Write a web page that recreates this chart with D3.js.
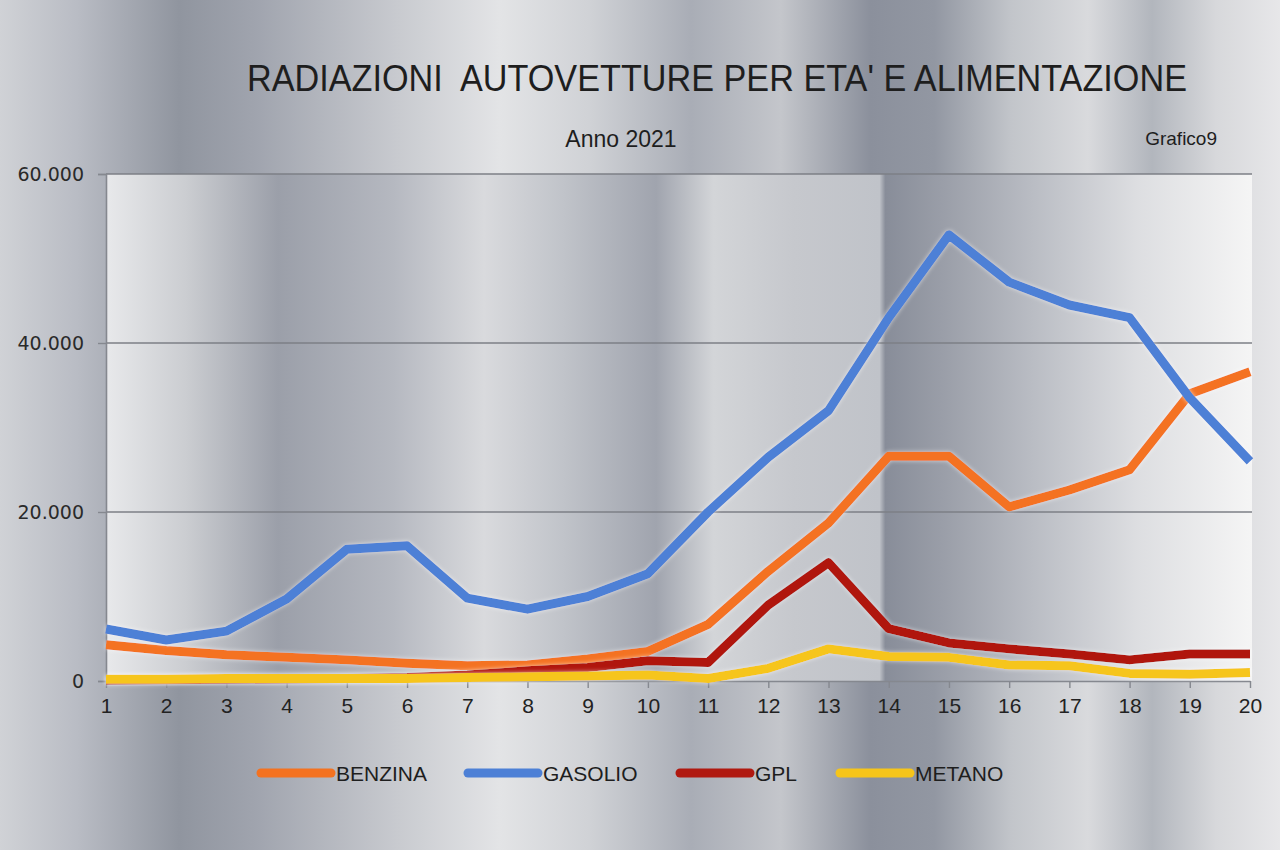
<!DOCTYPE html>
<html>
<head>
<meta charset="utf-8">
<script src="https://cdn.jsdelivr.net/npm/d3@7"></script>
<style>
  html, body { margin: 0; padding: 0; background: #c8cacf; }
  svg { display: block; }
</style>
</head>
<body>
<svg id="chart"></svg>
<script>
const eta = [1, 2, 3, 4, 5, 6, 7, 8, 9, 10, 11, 12, 13, 14, 15, 16, 17, 18, 19, 20];

const benzina = [4300, 3600, 3100, 2800, 2500, 2100, 1800, 1900, 2600, 3500,
                 6700, 13000, 18700, 26600, 26600, 20600, 22600, 25000, 34000, 36600];
const gasolio = [6150, 4850, 5900, 9700, 15600, 16000, 9800, 8500, 10000, 12700,
                 20000, 26500, 32000, 43000, 52800, 47200, 44500, 43000, 33500, 26000];
const gpl = [100, 150, 200, 250, 300, 400, 700, 1200, 1600, 2400,
             2200, 9000, 14000, 6200, 4500, 3800, 3200, 2500, 3200, 3200];
const metano = [200, 200, 300, 300, 300, 300, 400, 500, 600, 700,
                300, 1500, 3800, 2900, 2800, 1900, 1800, 900, 800, 1000];

const yTicks = [0, 20000, 40000, 60000];

const series = [
    { name: "BENZINA", values: benzina, color: "#f47220" },
    { name: "GASOLIO", values: gasolio, color: "#4d80d6" },
    { name: "GPL", values: gpl, color: "#b01910" },
    { name: "METANO", values: metano, color: "#f6c51a" }
];

const width = 1280;
const height = 850;
const plot = { left: 106, right: 1252, top: 174, bottom: 681 };

const svg = d3.select("#chart")
              .attr("width", width)
              .attr("height", height);

const defs = svg.append("defs");

// metallic background bands
const bgStops = [
    [0, "#d0d2d6"], [0.06, "#b9bcc4"], [0.14, "#90959f"], [0.2, "#a0a4ae"],
    [0.31, "#c8cacf"], [0.39, "#e3e4e6"], [0.46, "#d0d2d6"], [0.54, "#a9adb6"],
    [0.61, "#c4c6cb"], [0.68, "#8b909c"], [0.73, "#9297a2"], [0.79, "#c2c5ca"],
    [0.85, "#d9dadd"], [0.9, "#b2b6bd"], [0.95, "#d7d8db"], [1, "#e7e7e9"]
];
const plotStops = [
    [0, "#e8e9eb"], [0.07, "#cbcdd1"], [0.15, "#9b9fa9"], [0.25, "#b5b8c0"],
    [0.33, "#d9dadd"], [0.4, "#c0c3c9"], [0.48, "#a0a4ae"], [0.53, "#d3d5d8"],
    [0.6, "#c6c8cd"], [0.675, "#c0c3c9"], [0.68, "#888d99"], [0.73, "#9a9ea8"],
    [0.81, "#babdc4"], [0.9, "#dddee1"], [1, "#f5f5f5"]
];

function addGradient(id, stops) {
    const g = defs.append("linearGradient")
                  .attr("id", id)
                  .attr("x1", "0").attr("x2", "1")
                  .attr("y1", "0").attr("y2", "0");
    g.selectAll("stop")
     .data(stops)
     .enter()
     .append("stop")
     .attr("offset", d => d[0])
     .attr("stop-color", d => d[1]);
}
addGradient("bg", bgStops);
addGradient("plotbg", plotStops);

const glow = defs.append("filter").attr("id", "glow")
                 .attr("x", "-5%").attr("y", "-20%").attr("width", "110%").attr("height", "140%");
glow.append("feGaussianBlur").attr("in", "SourceAlpha").attr("stdDeviation", 2).attr("result", "b");
glow.append("feFlood").attr("flood-color", "#ffffff").attr("flood-opacity", 0.6);
glow.append("feComposite").attr("in2", "b").attr("operator", "in").attr("result", "w");
const merge = glow.append("feMerge");
merge.append("feMergeNode").attr("in", "w");
merge.append("feMergeNode").attr("in", "SourceGraphic");

svg.append("rect")
   .attr("width", width)
   .attr("height", height)
   .attr("fill", "url(#bg)");

svg.append("rect")
   .attr("x", plot.left)
   .attr("y", plot.top)
   .attr("width", plot.right - plot.left)
   .attr("height", plot.bottom - plot.top)
   .attr("fill", "url(#plotbg)");

const xScale = d3.scalePoint()
                 .domain(eta)
                 .range([plot.left, plot.right - 2]);

const yScale = d3.scaleLinear()
                 .domain([0, 60000])
                 .range([plot.bottom, plot.top]);

// gridlines
svg.append("g")
   .selectAll("line")
   .data(yTicks.filter(d => d > 0))
   .enter()
   .append("line")
   .attr("x1", plot.left)
   .attr("x2", plot.right)
   .attr("y1", d => yScale(d))
   .attr("y2", d => yScale(d))
   .attr("stroke", "#7c7f86")
   .attr("stroke-width", 1.6);

const yAxis = d3.axisLeft(yScale)
                .tickValues(yTicks)
                .tickSize(8)
                .tickPadding(14)
                .tickFormat(d => d === 0 ? "0" : d3.format(",")(d).replace(/,/g, "."));

const yG = svg.append("g")
              .attr("transform", `translate(${plot.left},0)`)
              .call(yAxis);
yG.select(".domain").attr("stroke", "#85888f").attr("stroke-width", 1.6);
yG.selectAll(".tick line").attr("stroke", "#85888f").attr("stroke-width", 1.4);
yG.selectAll(".tick text")
  .attr("font-family", "DejaVu Sans, sans-serif")
  .attr("font-size", 19)
  .attr("fill", "#2a2a2a");

const xAxis = d3.axisBottom(xScale)
                .tickSize(7)
                .tickSizeOuter(0)
                .tickPadding(10);

const xG = svg.append("g")
              .attr("transform", `translate(0,${plot.bottom})`)
              .call(xAxis);
xG.select(".domain").attr("stroke", "#85888f").attr("stroke-width", 1.6);
xG.selectAll(".tick line").attr("stroke", "#85888f").attr("stroke-width", 1.4);
xG.selectAll(".tick text")
  .attr("font-family", "Liberation Sans, sans-serif")
  .attr("font-size", 21)
  .attr("fill", "#222");

const line = d3.line()
               .x((d, i) => xScale(eta[i]))
               .y(d => yScale(d));

svg.append("g")
   .selectAll("path")
   .data(series)
   .enter()
   .append("path")
   .attr("d", d => line(d.values))
   .attr("fill", "none")
   .attr("stroke", d => d.color)
   .attr("stroke-width", 9)
   .attr("stroke-linejoin", "round")
   .attr("stroke-linecap", "butt")
   .attr("filter", "url(#glow)");

// titles
svg.append("text")
   .attr("x", 247)
   .attr("y", 91)
   .attr("textLength", 940)
   .attr("lengthAdjust", "spacingAndGlyphs")
   .attr("font-family", "Liberation Sans, sans-serif")
   .attr("font-size", 36)
   .attr("fill", "#1e1e1e")
   .attr("xml:space", "preserve")
   .text("RADIAZIONI  AUTOVETTURE PER ETA' E ALIMENTAZIONE");

svg.append("text")
   .attr("x", 621)
   .attr("y", 147)
   .attr("text-anchor", "middle")
   .attr("font-family", "Liberation Sans, sans-serif")
   .attr("font-size", 23)
   .attr("fill", "#1e1e1e")
   .text("Anno 2021");

svg.append("text")
   .attr("x", 1217)
   .attr("y", 145)
   .attr("text-anchor", "end")
   .attr("font-family", "Liberation Sans, sans-serif")
   .attr("font-size", 19)
   .attr("fill", "#1e1e1e")
   .text("Grafico9");

// legend
const legendX = [261, 468, 680, 840];
const legend = svg.append("g")
                  .selectAll("g")
                  .data(series)
                  .enter()
                  .append("g")
                  .attr("transform", (d, i) => `translate(${legendX[i]},773)`);

legend.append("line")
      .attr("x1", 0)
      .attr("x2", 70)
      .attr("stroke", d => d.color)
      .attr("stroke-width", 9)
      .attr("stroke-linecap", "round");

legend.append("text")
      .attr("x", 75)
      .attr("y", 8)
      .attr("font-family", "Liberation Sans, sans-serif")
      .attr("font-size", 21)
      .attr("fill", "#1e1e1e")
      .text(d => d.name);
</script>
</body>
</html>
